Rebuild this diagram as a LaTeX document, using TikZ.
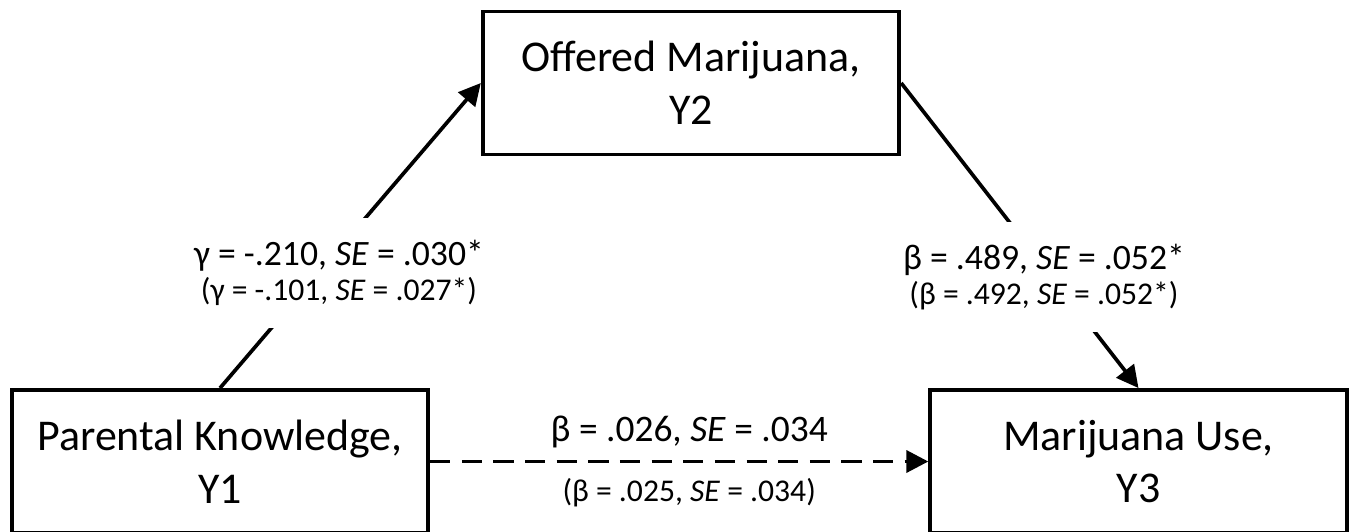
\documentclass[tikz,border=0pt]{standalone}
\usepackage{fontspec}
\setmainfont{Carlito}
\usetikzlibrary{positioning,arrows.meta}

\newcommand{\smlfont}{\fontsize{18}{20}\selectfont}

\begin{document}
\begin{tikzpicture}[
  font=\fontsize{25}{30}\selectfont,
  var/.style={rectangle, draw=black, line width=2.2pt, minimum width=8.33cm,
              minimum height=2.86cm, inner sep=0pt, align=center},
  eff/.style={-{Triangle[length=12.5pt,width=12.5pt]}, draw=black, line width=2.1pt},
  ns/.style={eff, dash pattern=on 11.5pt off 6.5pt},
  lbl/.style={fill=white, inner xsep=2pt, inner ysep=0pt, minimum height=2.2cm,
              align=center, font=\fontsize{20.3}{19.5}\selectfont},
  lblb/.style={anchor=base, inner sep=0pt, font=\fontsize{21.3}{25}\selectfont}
]
\useasboundingbox (0,0) rectangle (27.08,-10.62);

\node[var] (om) at (13.82,-1.66) {Offered Marijuana,\\Y2};
\node[var] (pk) at ( 4.40,-9.23) {Parental Knowledge,\\Y1};
\node[var] (mu) at (22.77,-9.23) {Marijuana Use,\\Y3};

\draw[eff] (pk.north) -- (om.west);
\draw[eff] (om.east) -- (mu.north);
\draw[ns] (pk.east) -- node[lblb, pos=.52, yshift=0.4cm] (b1) {β = .026, \textit{SE} = .034}
                       node[lblb, pos=.52, yshift=-0.8cm, font=\smlfont] (b2) {(β = .025, \textit{SE} = .034)}
                       (mu.west);

\node[lbl] (a) at (6.78,-5.46) {γ = -.210, \textit{SE} = .030*\\{\smlfont (γ = -.101, \textit{SE} = .027*)}};
\node[lbl] (b) at (20.88,-5.54) {β = .489, \textit{SE} = .052*\\{\smlfont (β = .492, \textit{SE} = .052*)}};
\end{tikzpicture}
\end{document}
